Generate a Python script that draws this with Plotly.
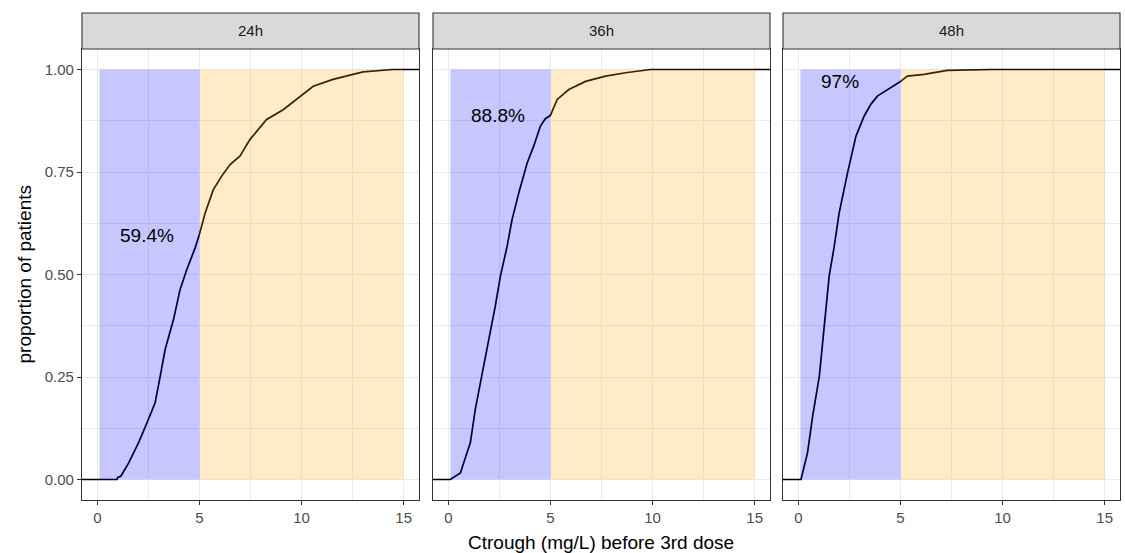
import plotly.graph_objects as go

# ---- data ----
panels = ["24h", "36h", "48h"]

x_24h = [-1, 0.96, 1.0, 1.15, 1.53, 2.02, 2.43, 2.83, 3.08, 3.32, 3.73, 4.05, 4.38, 4.79, 5.0,
         5.28, 5.68, 6.09, 6.50, 6.99, 7.47, 8.29, 9.10, 9.92, 10.57, 11.54, 13.01, 14.47, 17]
p_24h = [0, 0, 0.005, 0.008, 0.04, 0.09, 0.138, 0.187, 0.252, 0.317, 0.39, 0.463, 0.512, 0.565, 0.598,
         0.65, 0.707, 0.74, 0.768, 0.789, 0.829, 0.878, 0.902, 0.935, 0.959, 0.976, 0.994, 1.0, 1.0]

x_36h = [-1, 0.1, 0.59, 1.08, 1.32, 1.65, 1.98, 2.30, 2.55, 2.88, 3.12, 3.45, 3.86, 4.18, 4.51,
         4.75, 5.0, 5.33, 5.90, 6.72, 7.70, 8.68, 9.9, 17]
p_36h = [0, 0, 0.016, 0.09, 0.171, 0.252, 0.341, 0.423, 0.496, 0.569, 0.634, 0.699, 0.772, 0.813, 0.862,
         0.88, 0.888, 0.927, 0.951, 0.971, 0.984, 0.992, 1.0, 1.0]

x_48h = [-1, 0.13, 0.45, 0.70, 1.03, 1.27, 1.51, 1.76, 2.0, 2.41, 2.82, 3.22, 3.55, 3.87, 4.53, 4.98,
         5.34, 6.16, 7.29, 9.5, 17]
p_48h = [0, 0, 0.065, 0.154, 0.252, 0.374, 0.496, 0.569, 0.65, 0.748, 0.837, 0.886, 0.915, 0.935, 0.955, 0.97,
         0.984, 0.988, 0.998, 1.0, 1.0]

curves_x = [x_24h, x_36h, x_48h]
curves_p = [p_24h, p_36h, p_48h]

labels = ["59.4%", "88.8%", "97%"]
label_y = [0.594, 0.888, 0.97]
label_x = [1.0, 1.0, 1.0]

target_low = [0.1, 5]      # blue region
target_high = [5, 15]      # orange region

x_ticks = [0, 5, 10, 15]
y_ticks = [0, 0.25, 0.5, 0.75, 1.0]
y_ticklabels = ["0.00", "0.25", "0.50", "0.75", "1.00"]

# ---- layout geometry ----
W, H = 1125, 553
ML, MR, MT, MB = 82, 5, 49, 53
PW = W - ML - MR
PH = H - MT - MB
domains = [(0, (419 - ML) / PW), ((433 - ML) / PW, (770 - ML) / PW), ((783 - ML) / PW, 1.0)]
strip_top = 1 + (MT - 13) / PH

FONT = "Liberation Sans, Arial, sans-serif"
GRID = "#EBEBEB"
BORDER = "#333333"

fig = go.Figure()
shapes = []
annotations = []

for i, name in enumerate(panels):
    xa = "x" if i == 0 else f"x{i+1}"
    ya = "y" if i == 0 else f"y{i+1}"
    fig.add_trace(go.Scatter(x=curves_x[i], y=curves_p[i], mode="lines",
                             line=dict(color="black", width=1.7),
                             xaxis=xa, yaxis=ya, showlegend=False, hoverinfo="skip"))
    shapes.append(dict(type="rect", xref=xa, yref=ya, x0=target_low[0], x1=target_low[1], y0=0, y1=1,
                       fillcolor="rgba(0,0,255,0.22)", line=dict(width=0), layer="above"))
    shapes.append(dict(type="rect", xref=xa, yref=ya, x0=target_high[0], x1=target_high[1], y0=0, y1=1,
                       fillcolor="rgba(255,165,0,0.22)", line=dict(width=0), layer="above"))
    shapes.append(dict(type="rect", xref=f"{xa} domain", yref="paper", x0=0, x1=1, y0=1, y1=strip_top,
                       fillcolor="#D9D9D9", line=dict(color=BORDER, width=1.1), layer="above"))
    annotations.append(dict(text=name, xref=f"{xa} domain", yref="paper", x=0.5, y=(1 + strip_top) / 2,
                            showarrow=False, xanchor="center", yanchor="middle",
                            font=dict(family=FONT, size=15, color="#1A1A1A")))
    annotations.append(dict(text=labels[i], xref=xa, yref=ya, x=label_x[i], y=label_y[i],
                            showarrow=False, xanchor="left", yanchor="middle",
                            font=dict(family=FONT, size=19, color="black")))

    axis_common = dict(showline=True, mirror=True, linecolor=BORDER, linewidth=1.1,
                       ticks="outside", ticklen=4, tickcolor=BORDER, tickwidth=1.1,
                       showgrid=True, gridcolor=GRID, gridwidth=1.3, zeroline=False,
                       tickfont=dict(family=FONT, size=15, color="#4D4D4D"))
    xdict = dict(axis_common, domain=list(domains[i]), range=[-0.75, 15.75], anchor=ya,
                 tickvals=x_ticks, ticktext=[str(v) for v in x_ticks],
                 minor=dict(tickvals=[2.5, 7.5, 12.5], showgrid=True, gridcolor=GRID, gridwidth=0.7, ticks=""))
    ydict = dict(axis_common, domain=[0, 1], range=[-0.05, 1.05], anchor=xa,
                 tickvals=y_ticks, ticktext=y_ticklabels, showticklabels=(i == 0),
                 minor=dict(tickvals=[0.125, 0.375, 0.625, 0.875], showgrid=True, gridcolor=GRID,
                            gridwidth=0.7, ticks=""))
    if i > 0:
        ydict["ticks"] = ""
    key = "" if i == 0 else str(i + 1)
    fig.layout["xaxis" + key] = xdict
    fig.layout["yaxis" + key] = ydict

annotations.append(dict(text="Ctrough (mg/L) before 3rd dose", xref="paper", yref="paper",
                        x=0.5, y=(500 - 542) / PH, showarrow=False, xanchor="center", yanchor="middle",
                        font=dict(family=FONT, size=19, color="black")))
annotations.append(dict(text="proportion of patients", xref="paper", yref="paper",
                        x=(24 - ML) / PW, y=0.5, showarrow=False, textangle=-90,
                        xanchor="center", yanchor="middle",
                        font=dict(family=FONT, size=19, color="black")))

fig.update_layout(width=W, height=H, margin=dict(l=ML, r=MR, t=MT, b=MB),
                  paper_bgcolor="white", plot_bgcolor="white",
                  shapes=shapes, annotations=annotations, showlegend=False)

fig.write_html("out.html", include_plotlyjs=True, full_html=True,
               config={"displayModeBar": False})
